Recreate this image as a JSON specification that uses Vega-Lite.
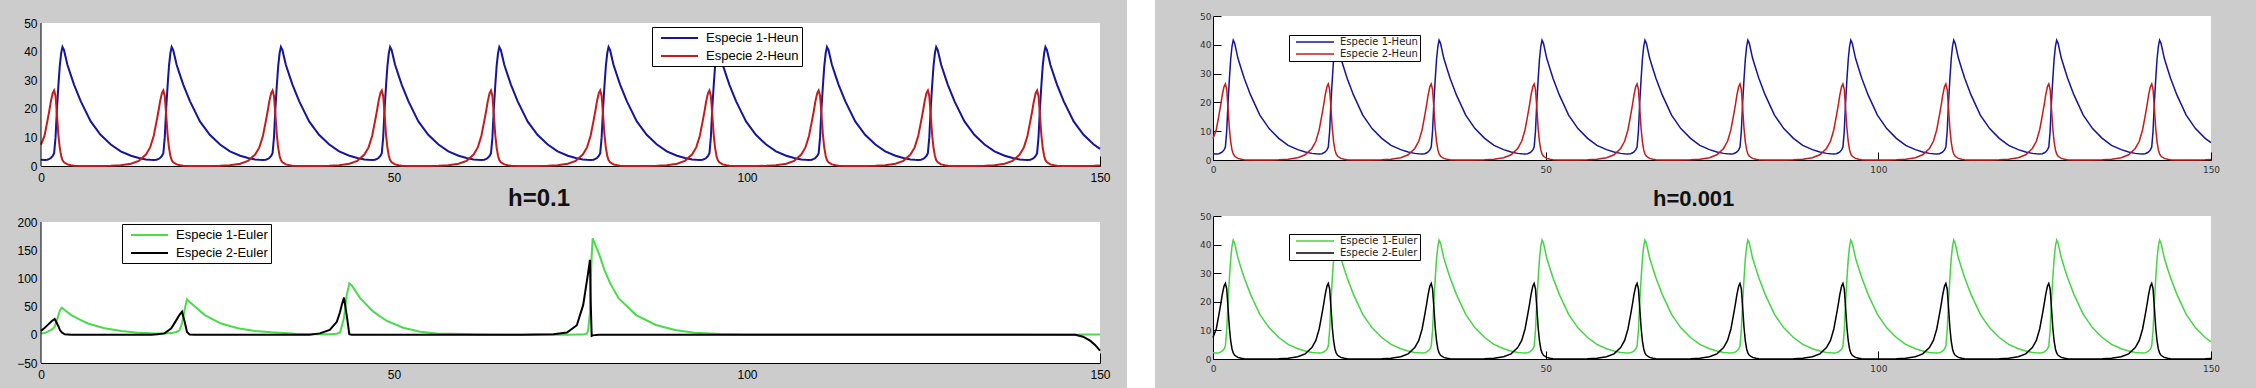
{
"$schema":"https://vega.github.io/schema/vega-lite/v6.json",
"background":"#cccccc",
"padding":0,
"columns":7,
"spacing":0,
"bounds":"flush",
"align":"each",
"config":{"view":{"stroke":null},"axis":{"grid":false,"domainColor":"#000","tickColor":"#000","labelColor":"#000"}},
"resolve":{"scale":{"color":"independent","x":"independent","y":"independent"},"legend":{"color":"independent"}},
"datasets":{
"heun":[
{"t":0,"a":2.2,"b":7.5},{"t":0.49,"a":2.1,"b":10.5},{"t":0.89,"a":2.2,"b":15.5},{"t":1.19,"a":2.5,"b":19.5},{"t":1.39,"a":2.8,"b":22.5},{"t":1.66,"a":3.5,"b":25.5},
{"t":1.86,"a":4.5,"b":26.4},{"t":2.06,"a":10,"b":24.5},{"t":2.26,"a":20,"b":18},{"t":2.46,"a":28,"b":11},{"t":2.66,"a":35,"b":6.3},{"t":2.86,"a":39.5,"b":3.5},{"t":3.04,"a":41.6,"b":2.1},{"t":3.26,"a":40.5,"b":1.3},{"t":3.74,"a":35.4,"b":0.55},{"t":4.26,"a":31.5,"b":0.25},{"t":4.69,"a":28.4,"b":0.12},{"t":5.64,"a":22.6,"b":0.04},{"t":7.04,"a":15.6,"b":0.02},{"t":8.44,"a":10.9,"b":0.02},{"t":9.89,"a":7.5,"b":0.05},{"t":11.29,"a":5.1,"b":0.3},{"t":12.74,"a":3.6,"b":0.8},{"t":13.86,"a":2.8,"b":1.8},{"t":14.86,"a":2.3,"b":4},{"t":15.46,"a":2.15,"b":6.5},{"t":15.96,"a":2.1,"b":10.5},{"t":16.36,"a":2.2,"b":15.5},{"t":16.66,"a":2.5,"b":19.5},{"t":16.86,"a":2.8,"b":22.5},{"t":17.13,"a":3.5,"b":25.5},
{"t":17.33,"a":4.5,"b":26.4},{"t":17.53,"a":10,"b":24.5},{"t":17.73,"a":20,"b":18},{"t":17.93,"a":28,"b":11},{"t":18.13,"a":35,"b":6.3},{"t":18.33,"a":39.5,"b":3.5},{"t":18.51,"a":41.6,"b":2.1},{"t":18.73,"a":40.5,"b":1.3},{"t":19.21,"a":35.4,"b":0.55},{"t":19.73,"a":31.5,"b":0.25},{"t":20.16,"a":28.4,"b":0.12},{"t":21.11,"a":22.6,"b":0.04},{"t":22.51,"a":15.6,"b":0.02},{"t":23.91,"a":10.9,"b":0.02},{"t":25.36,"a":7.5,"b":0.05},{"t":26.76,"a":5.1,"b":0.3},{"t":28.21,"a":3.6,"b":0.8},{"t":29.33,"a":2.8,"b":1.8},{"t":30.33,"a":2.3,"b":4},{"t":30.93,"a":2.15,"b":6.5},{"t":31.43,"a":2.1,"b":10.5},{"t":31.83,"a":2.2,"b":15.5},{"t":32.13,"a":2.5,"b":19.5},{"t":32.33,"a":2.8,"b":22.5},{"t":32.6,"a":3.5,"b":25.5},
{"t":32.8,"a":4.5,"b":26.4},{"t":33.0,"a":10,"b":24.5},{"t":33.2,"a":20,"b":18},{"t":33.4,"a":28,"b":11},{"t":33.6,"a":35,"b":6.3},{"t":33.8,"a":39.5,"b":3.5},{"t":33.98,"a":41.6,"b":2.1},{"t":34.2,"a":40.5,"b":1.3},{"t":34.68,"a":35.4,"b":0.55},{"t":35.2,"a":31.5,"b":0.25},{"t":35.63,"a":28.4,"b":0.12},{"t":36.58,"a":22.6,"b":0.04},{"t":37.98,"a":15.6,"b":0.02},{"t":39.38,"a":10.9,"b":0.02},{"t":40.83,"a":7.5,"b":0.05},{"t":42.23,"a":5.1,"b":0.3},{"t":43.68,"a":3.6,"b":0.8},{"t":44.8,"a":2.8,"b":1.8},{"t":45.8,"a":2.3,"b":4},{"t":46.4,"a":2.15,"b":6.5},{"t":46.9,"a":2.1,"b":10.5},{"t":47.3,"a":2.2,"b":15.5},{"t":47.6,"a":2.5,"b":19.5},{"t":47.8,"a":2.8,"b":22.5},{"t":48.07,"a":3.5,"b":25.5},
{"t":48.27,"a":4.5,"b":26.4},{"t":48.47,"a":10,"b":24.5},{"t":48.67,"a":20,"b":18},{"t":48.87,"a":28,"b":11},{"t":49.07,"a":35,"b":6.3},{"t":49.27,"a":39.5,"b":3.5},{"t":49.45,"a":41.6,"b":2.1},{"t":49.67,"a":40.5,"b":1.3},{"t":50.15,"a":35.4,"b":0.55},{"t":50.67,"a":31.5,"b":0.25},{"t":51.1,"a":28.4,"b":0.12},{"t":52.05,"a":22.6,"b":0.04},{"t":53.45,"a":15.6,"b":0.02},{"t":54.85,"a":10.9,"b":0.02},{"t":56.3,"a":7.5,"b":0.05},{"t":57.7,"a":5.1,"b":0.3},{"t":59.15,"a":3.6,"b":0.8},{"t":60.27,"a":2.8,"b":1.8},{"t":61.27,"a":2.3,"b":4},{"t":61.87,"a":2.15,"b":6.5},{"t":62.37,"a":2.1,"b":10.5},{"t":62.77,"a":2.2,"b":15.5},{"t":63.07,"a":2.5,"b":19.5},{"t":63.27,"a":2.8,"b":22.5},{"t":63.54,"a":3.5,"b":25.5},
{"t":63.74,"a":4.5,"b":26.4},{"t":63.94,"a":10,"b":24.5},{"t":64.14,"a":20,"b":18},{"t":64.34,"a":28,"b":11},{"t":64.54,"a":35,"b":6.3},{"t":64.74,"a":39.5,"b":3.5},{"t":64.92,"a":41.6,"b":2.1},{"t":65.14,"a":40.5,"b":1.3},{"t":65.62,"a":35.4,"b":0.55},{"t":66.14,"a":31.5,"b":0.25},{"t":66.57,"a":28.4,"b":0.12},{"t":67.52,"a":22.6,"b":0.04},{"t":68.92,"a":15.6,"b":0.02},{"t":70.32,"a":10.9,"b":0.02},{"t":71.77,"a":7.5,"b":0.05},{"t":73.17,"a":5.1,"b":0.3},{"t":74.62,"a":3.6,"b":0.8},{"t":75.74,"a":2.8,"b":1.8},{"t":76.74,"a":2.3,"b":4},{"t":77.34,"a":2.15,"b":6.5},{"t":77.84,"a":2.1,"b":10.5},{"t":78.24,"a":2.2,"b":15.5},{"t":78.54,"a":2.5,"b":19.5},{"t":78.74,"a":2.8,"b":22.5},{"t":79.01,"a":3.5,"b":25.5},
{"t":79.21,"a":4.5,"b":26.4},{"t":79.41,"a":10,"b":24.5},{"t":79.61,"a":20,"b":18},{"t":79.81,"a":28,"b":11},{"t":80.01,"a":35,"b":6.3},{"t":80.21,"a":39.5,"b":3.5},{"t":80.39,"a":41.6,"b":2.1},{"t":80.61,"a":40.5,"b":1.3},{"t":81.09,"a":35.4,"b":0.55},{"t":81.61,"a":31.5,"b":0.25},{"t":82.04,"a":28.4,"b":0.12},{"t":82.99,"a":22.6,"b":0.04},{"t":84.39,"a":15.6,"b":0.02},{"t":85.79,"a":10.9,"b":0.02},{"t":87.24,"a":7.5,"b":0.05},{"t":88.64,"a":5.1,"b":0.3},{"t":90.09,"a":3.6,"b":0.8},{"t":91.21,"a":2.8,"b":1.8},{"t":92.21,"a":2.3,"b":4},{"t":92.81,"a":2.15,"b":6.5},{"t":93.31,"a":2.1,"b":10.5},{"t":93.71,"a":2.2,"b":15.5},{"t":94.01,"a":2.5,"b":19.5},{"t":94.21,"a":2.8,"b":22.5},{"t":94.48,"a":3.5,"b":25.5},
{"t":94.68,"a":4.5,"b":26.4},{"t":94.88,"a":10,"b":24.5},{"t":95.08,"a":20,"b":18},{"t":95.28,"a":28,"b":11},{"t":95.48,"a":35,"b":6.3},{"t":95.68,"a":39.5,"b":3.5},{"t":95.86,"a":41.6,"b":2.1},{"t":96.08,"a":40.5,"b":1.3},{"t":96.56,"a":35.4,"b":0.55},{"t":97.08,"a":31.5,"b":0.25},{"t":97.51,"a":28.4,"b":0.12},{"t":98.46,"a":22.6,"b":0.04},{"t":99.86,"a":15.6,"b":0.02},{"t":101.26,"a":10.9,"b":0.02},{"t":102.71,"a":7.5,"b":0.05},{"t":104.11,"a":5.1,"b":0.3},{"t":105.56,"a":3.6,"b":0.8},{"t":106.68,"a":2.8,"b":1.8},{"t":107.68,"a":2.3,"b":4},{"t":108.28,"a":2.15,"b":6.5},{"t":108.78,"a":2.1,"b":10.5},{"t":109.18,"a":2.2,"b":15.5},{"t":109.48,"a":2.5,"b":19.5},{"t":109.68,"a":2.8,"b":22.5},{"t":109.95,"a":3.5,"b":25.5},
{"t":110.15,"a":4.5,"b":26.4},{"t":110.35,"a":10,"b":24.5},{"t":110.55,"a":20,"b":18},{"t":110.75,"a":28,"b":11},{"t":110.95,"a":35,"b":6.3},{"t":111.15,"a":39.5,"b":3.5},{"t":111.33,"a":41.6,"b":2.1},{"t":111.55,"a":40.5,"b":1.3},{"t":112.03,"a":35.4,"b":0.55},{"t":112.55,"a":31.5,"b":0.25},{"t":112.98,"a":28.4,"b":0.12},{"t":113.93,"a":22.6,"b":0.04},{"t":115.33,"a":15.6,"b":0.02},{"t":116.73,"a":10.9,"b":0.02},{"t":118.18,"a":7.5,"b":0.05},{"t":119.58,"a":5.1,"b":0.3},{"t":121.03,"a":3.6,"b":0.8},{"t":122.15,"a":2.8,"b":1.8},{"t":123.15,"a":2.3,"b":4},{"t":123.75,"a":2.15,"b":6.5},{"t":124.25,"a":2.1,"b":10.5},{"t":124.65,"a":2.2,"b":15.5},{"t":124.95,"a":2.5,"b":19.5},{"t":125.15,"a":2.8,"b":22.5},{"t":125.42,"a":3.5,"b":25.5},
{"t":125.62,"a":4.5,"b":26.4},{"t":125.82,"a":10,"b":24.5},{"t":126.02,"a":20,"b":18},{"t":126.22,"a":28,"b":11},{"t":126.42,"a":35,"b":6.3},{"t":126.62,"a":39.5,"b":3.5},{"t":126.8,"a":41.6,"b":2.1},{"t":127.02,"a":40.5,"b":1.3},{"t":127.5,"a":35.4,"b":0.55},{"t":128.02,"a":31.5,"b":0.25},{"t":128.45,"a":28.4,"b":0.12},{"t":129.4,"a":22.6,"b":0.04},{"t":130.8,"a":15.6,"b":0.02},{"t":132.2,"a":10.9,"b":0.02},{"t":133.65,"a":7.5,"b":0.05},{"t":135.05,"a":5.1,"b":0.3},{"t":136.5,"a":3.6,"b":0.8},{"t":137.62,"a":2.8,"b":1.8},{"t":138.62,"a":2.3,"b":4},{"t":139.22,"a":2.15,"b":6.5},{"t":139.72,"a":2.1,"b":10.5},{"t":140.12,"a":2.2,"b":15.5},{"t":140.42,"a":2.5,"b":19.5},{"t":140.62,"a":2.8,"b":22.5},{"t":140.89,"a":3.5,"b":25.5},
{"t":141.09,"a":4.5,"b":26.4},{"t":141.29,"a":10,"b":24.5},{"t":141.49,"a":20,"b":18},{"t":141.69,"a":28,"b":11},{"t":141.89,"a":35,"b":6.3},{"t":142.09,"a":39.5,"b":3.5},{"t":142.27,"a":41.6,"b":2.1},{"t":142.49,"a":40.5,"b":1.3},{"t":142.97,"a":35.4,"b":0.55},{"t":143.49,"a":31.5,"b":0.25},{"t":143.92,"a":28.4,"b":0.12},{"t":144.87,"a":22.6,"b":0.04},{"t":146.27,"a":15.6,"b":0.02},{"t":147.67,"a":10.9,"b":0.02},{"t":149.12,"a":7.5,"b":0.05},{"t":150,"a":6.0,"b":0.2}
],
"euler":[
{"t":0,"a":2.2,"b":7},{"t":0.5,"a":3,"b":12},{"t":1.0,"a":6,"b":18},{"t":1.5,"a":9,"b":24},{"t":1.94,"a":14,"b":28},{"t":2.4,"a":32,"b":17},{"t":2.7,"a":44,"b":8},{"t":2.97,"a":48,"b":4},{"t":3.35,"a":44,"b":0.8},{"t":4.3,"a":35,"b":0.1},{"t":5.5,"a":27,"b":0.02},{"t":6.66,"a":20,"b":0.01},{"t":9.0,"a":11.5,"b":0.01},{"t":11.4,"a":6.7,"b":0.02},{"t":13.7,"a":3.8,"b":0.1},{"t":15.6,"a":2.7,"b":0.3},{"t":16.5,"a":2.5,"b":0.8},{"t":17.5,"a":2.4,"b":2.5},{"t":18.46,"a":3,"b":11.5},{"t":19.17,"a":5,"b":26},{"t":19.6,"a":8,"b":35},{"t":19.97,"a":20,"b":41},{"t":20.35,"a":45,"b":23},{"t":20.68,"a":63,"b":5},{"t":21.05,"a":58,"b":0.5},{"t":21.8,"a":50,"b":0.1},{"t":23.2,"a":35,"b":0.02},{"t":25.5,"a":20,"b":0.01},{"t":27.9,"a":11.5,"b":0.01},{"t":30.3,"a":6.7,"b":0.01},{"t":32.6,"a":4.4,"b":0.01},{"t":35.5,"a":2.5,"b":0.02},{"t":36.5,"a":1.2,"b":0.05},{"t":38.0,"a":0.8,"b":0.3},{"t":39.5,"a":0.9,"b":2.5},{"t":40.9,"a":1.0,"b":8.5},{"t":41.9,"a":2,"b":23},{"t":42.35,"a":4,"b":40},{"t":42.6,"a":15,"b":53},{"t":42.92,"a":30,"b":66},{"t":43.3,"a":70,"b":35},{"t":43.67,"a":91,"b":1},{"t":44.0,"a":88,"b":0.1},{"t":45.2,"a":65,"b":0.01},{"t":47.07,"a":41,"b":0},{"t":49.0,"a":24.5,"b":0},{"t":51.3,"a":12.6,"b":0},{"t":53.7,"a":5.5,"b":0},{"t":56.0,"a":2.5,"b":0},{"t":59.8,"a":1.2,"b":0.01},{"t":62,"a":0.5,"b":0.02},{"t":68,"a":0.2,"b":0.1},{"t":72.6,"a":0.2,"b":1},{"t":74.5,"a":0.3,"b":4},{"t":75.9,"a":0.4,"b":17},{"t":76.8,"a":0.5,"b":53},{"t":77.3,"a":2,"b":94},{"t":77.5,"a":8,"b":110},{"t":77.76,"a":40,"b":133},{"t":77.86,"a":94,"b":60},{"t":78.0,"a":140,"b":-2},{"t":78.14,"a":171,"b":-1},{"t":79.0,"a":145,"b":0},{"t":79.8,"a":115,"b":0},{"t":80.6,"a":92,"b":0},{"t":81.8,"a":65,"b":0},{"t":84.3,"a":35,"b":0},{"t":87.1,"a":17.4,"b":0},{"t":89.8,"a":8.5,"b":0},{"t":92.5,"a":3.8,"b":0},{"t":96.2,"a":1.4,"b":0},{"t":100,"a":0.5,"b":0},{"t":146.5,"a":0.3,"b":0},{"t":147.6,"a":0.35,"b":-3.3},{"t":148.6,"a":0.4,"b":-10.4},{"t":149.3,"a":0.4,"b":-18},{"t":150,"a":0.4,"b":-28}
]
},
"concat":[
{"width":41,"height":1,"data":{"values":[]},"mark":"point"},
{"width":1,"height":1,"data":{"values":[]},"mark":"point"},
{"width":27,"height":1,"data":{"values":[]},"mark":"point"},
{"width":28,"height":16,"view":{"fill":"white","stroke":null},"data":{"values":[]},"mark":"point"},
{"width":58,"height":1,"data":{"values":[]},"mark":"point"},
{"width":1,"height":1,"data":{"values":[]},"mark":"point"},
{"width":45,"height":1,"data":{"values":[]},"mark":"point"},

{"width":1,"height":1,"data":{"values":[]},"mark":"point"},
{"width":1059,"height":150,
 "layer":[
  {"data":{"values":[{"k":"frame"}]},"mark":{"type":"rect","fill":"#ffffff","stroke":null},
   "encoding":{"x":{"datum":0,"type":"quantitative","scale":{"domain":[0,150],"nice":false},"axis":{"values":[0,50,100,150],"tickSize":-10,"labelPadding":16,"labelFont":"Liberation Sans","labelFontSize":12,"labelFlush":false,"labelOverlap":false,"title":null}},"x2":{"datum":150},
    "y":{"datum":0,"type":"quantitative","scale":{"domain":[0,52.448],"nice":false},"axis":{"values":[0,10,20,30,40,50],"domain":false,"tickSize":-10,"labelPadding":14,"labelFont":"Liberation Sans","labelFontSize":12,"labelFlush":false,"labelOverlap":false,"title":null}},"y2":{"datum":50}}},
  {"data":{"name":"heun"},"transform":[{"fold":["a","b"],"as":["k","v"]}],"mark":{"type":"line","strokeWidth":2},
   "encoding":{"x":{"field":"t","type":"quantitative","scale":{"domain":[0,150],"nice":false},"axis":{"values":[0,50,100,150],"tickSize":-10,"labelPadding":16,"labelFont":"Liberation Sans","labelFontSize":12,"labelFlush":false,"labelOverlap":false,"title":null}},
    "y":{"field":"v","type":"quantitative","scale":{"domain":[0,52.448],"nice":false},"axis":{"values":[0,10,20,30,40,50],"domain":false,"tickSize":-10,"labelPadding":14,"labelFont":"Liberation Sans","labelFontSize":12,"labelFlush":false,"labelOverlap":false,"title":null}},
    "color":{"field":"k","type":"nominal","scale":{"domain":["a","b"],"range":["#14149c","#c41c1c"]},
     "legend":{"orient":"none","legendX":611,"legendY":11,"title":null,"labelExpr":"datum.label == 'a' ? 'Especie 1-Heun' : 'Especie 2-Heun'","fillColor":"white","strokeColor":"black","padding":3,"rowPadding":3,"symbolType":"M-0.286,0H5","symbolSize":196,"symbolStrokeWidth":2,"labelOffset":35,"labelFont":"Liberation Sans","labelFontSize":13,"labelColor":"#000","labelLimit":0}}}},
  {"data":{"values":[{"k":"frame"}]},"mark":{"type":"rule","color":"#000","strokeWidth":1},
   "encoding":{"x":{"datum":0,"type":"quantitative","scale":{"domain":[0,150],"nice":false},"axis":{"values":[0,50,100,150],"tickSize":-10,"labelPadding":16,"labelFont":"Liberation Sans","labelFontSize":12,"labelFlush":false,"labelOverlap":false,"title":null}},
    "y":{"datum":0,"type":"quantitative","scale":{"domain":[0,52.448],"nice":false},"axis":{"values":[0,10,20,30,40,50],"domain":false,"tickSize":-10,"labelPadding":14,"labelFont":"Liberation Sans","labelFontSize":12,"labelFlush":false,"labelOverlap":false,"title":null}},"y2":{"datum":50}}}
 ]},
{"width":1,"height":1,"data":{"values":[]},"mark":"point"},
{"width":28,"height":150,"view":{"fill":"white","stroke":null},"data":{"values":[]},"mark":"point"},
{"width":1,"height":1,"data":{"values":[]},"mark":"point"},
{"width":998,"height":144,"view":{"fill":"white","stroke":null},"data":{"name":"heun"},"transform":[{"fold":["a","b"],"as":["k","v"]}],
 "mark":{"type":"line","strokeWidth":1.5},
 "encoding":{"x":{"field":"t","type":"quantitative","scale":{"domain":[0,150],"nice":false},"axis":{"values":[0,50,100,150],"tickSize":-8,"labelPadding":13,"labelFont":"DejaVu Sans","labelFontSize":9,"labelColor":"#333","labelFlush":false,"labelOverlap":false,"title":null}},
  "y":{"field":"v","type":"quantitative","scale":{"domain":[0,50],"nice":false},"axis":{"values":[0,10,20,30,40,50],"tickSize":-8,"labelPadding":10,"labelFont":"DejaVu Sans","labelFontSize":9,"labelColor":"#333","labelFlush":false,"labelOverlap":false,"title":null}},
  "color":{"field":"k","type":"nominal","scale":{"domain":["a","b"],"range":["#14149c","#c41c1c"]},
   "legend":{"orient":"none","legendX":76,"legendY":19,"title":null,"labelExpr":"datum.label == 'a' ? 'Especie 1-Heun' : 'Especie 2-Heun'","fillColor":"white","strokeColor":"black","padding":2,"rowPadding":2,"symbolType":"M0,0H9.5","symbolSize":64,"symbolStrokeWidth":1.5,"labelOffset":39,"labelFont":"DejaVu Sans","labelFontSize":10,"labelColor":"#222","labelLimit":0}}}},
{"width":1,"height":1,"data":{"values":[]},"mark":"point"},

{"width":1,"height":1,"data":{"values":[]},"mark":"point"},
{"width":1,"height":1,"data":{"values":[]},"mark":"point"},
{"width":1,"height":1,"data":{"values":[]},"mark":"point"},
{"width":28,"height":50,"view":{"fill":"white","stroke":null},"data":{"values":[]},"mark":"point"},
{"width":1,"height":1,"data":{"values":[]},"mark":"point"},
{"width":1,"height":1,"data":{"values":[]},"mark":"point"},
{"width":1,"height":1,"data":{"values":[]},"mark":"point"},

{"width":1,"height":1,"data":{"values":[]},"mark":"point"},
{"width":1059,"height":147,
 "title":{"text":"h=0.1","frame":"group","anchor":"start","dx":467,"offset":-14,"baseline":"alphabetic","font":"Liberation Sans","fontSize":24,"fontWeight":"bold","color":"#111"},
 "layer":[
  {"data":{"values":[{"k":"frame"}]},"mark":{"type":"rect","fill":"#ffffff","stroke":null},
   "encoding":{"x":{"datum":0,"type":"quantitative","scale":{"domain":[0,150],"nice":false},"axis":{"values":[0,50,100,150],"tickSize":-10,"labelPadding":16,"labelFont":"Liberation Sans","labelFontSize":12,"labelFlush":false,"labelOverlap":false,"title":null}},"x2":{"datum":150},
    "y":{"datum":-50,"type":"quantitative","scale":{"domain":[-50,210.64],"nice":false},"axis":{"values":[-50,0,50,100,150,200],"domain":false,"tickSize":-10,"labelPadding":14,"labelFont":"Liberation Sans","labelFontSize":12,"labelFlush":false,"labelOverlap":false,"title":null}},"y2":{"datum":200}}},
  {"data":{"name":"euler"},"transform":[{"fold":["a","b"],"as":["k","v"]}],"mark":{"type":"line","strokeWidth":2},
   "encoding":{"x":{"field":"t","type":"quantitative","scale":{"domain":[0,150],"nice":false},"axis":{"values":[0,50,100,150],"tickSize":-10,"labelPadding":16,"labelFont":"Liberation Sans","labelFontSize":12,"labelFlush":false,"labelOverlap":false,"title":null}},
    "y":{"field":"v","type":"quantitative","scale":{"domain":[-50,210.64],"nice":false},"axis":{"values":[-50,0,50,100,150,200],"domain":false,"tickSize":-10,"labelPadding":14,"labelFont":"Liberation Sans","labelFontSize":12,"labelFlush":false,"labelOverlap":false,"title":null}},
    "color":{"field":"k","type":"nominal","scale":{"domain":["a","b"],"range":["#48dc48","#000000"]},
     "legend":{"orient":"none","legendX":81,"legendY":8,"title":null,"labelExpr":"datum.label == 'a' ? 'Especie 1-Euler' : 'Especie 2-Euler'","fillColor":"white","strokeColor":"black","padding":3,"rowPadding":3,"symbolType":"M-0.286,0H5","symbolSize":196,"symbolStrokeWidth":2,"labelOffset":35,"labelFont":"Liberation Sans","labelFontSize":13,"labelColor":"#000","labelLimit":0}}}},
  {"data":{"values":[{"k":"frame"}]},"mark":{"type":"rule","color":"#000","strokeWidth":1},
   "encoding":{"x":{"datum":0,"type":"quantitative","scale":{"domain":[0,150],"nice":false},"axis":{"values":[0,50,100,150],"tickSize":-10,"labelPadding":16,"labelFont":"Liberation Sans","labelFontSize":12,"labelFlush":false,"labelOverlap":false,"title":null}},
    "y":{"datum":-50,"type":"quantitative","scale":{"domain":[-50,210.64],"nice":false},"axis":{"values":[-50,0,50,100,150,200],"domain":false,"tickSize":-10,"labelPadding":14,"labelFont":"Liberation Sans","labelFontSize":12,"labelFlush":false,"labelOverlap":false,"title":null}},"y2":{"datum":200}}}
 ]},
{"width":1,"height":1,"data":{"values":[]},"mark":"point"},
{"width":28,"height":147,"view":{"fill":"white","stroke":null},"data":{"values":[]},"mark":"point"},
{"width":1,"height":1,"data":{"values":[]},"mark":"point"},
{"width":998,"height":143,"view":{"fill":"white","stroke":null},"data":{"name":"heun"},"transform":[{"fold":["a","b"],"as":["k","v"]}],
 "title":{"text":"h=0.001","frame":"group","anchor":"start","dx":440,"offset":-16,"baseline":"alphabetic","font":"Liberation Sans","fontSize":22,"fontWeight":"bold","color":"#111"},
 "mark":{"type":"line","strokeWidth":1.5},
 "encoding":{"x":{"field":"t","type":"quantitative","scale":{"domain":[0,150],"nice":false},"axis":{"values":[0,50,100,150],"tickSize":-8,"labelPadding":13,"labelFont":"DejaVu Sans","labelFontSize":9,"labelColor":"#333","labelFlush":false,"labelOverlap":false,"title":null}},
  "y":{"field":"v","type":"quantitative","scale":{"domain":[0,50],"nice":false},"axis":{"values":[0,10,20,30,40,50],"tickSize":-8,"labelPadding":10,"labelFont":"DejaVu Sans","labelFontSize":9,"labelColor":"#333","labelFlush":false,"labelOverlap":false,"title":null}},
  "color":{"field":"k","type":"nominal","scale":{"domain":["a","b"],"range":["#44d444","#000000"]},
   "legend":{"orient":"none","legendX":76,"legendY":18,"title":null,"labelExpr":"datum.label == 'a' ? 'Especie 1-Euler' : 'Especie 2-Euler'","fillColor":"white","strokeColor":"black","padding":2,"rowPadding":2,"symbolType":"M0,0H9.5","symbolSize":64,"symbolStrokeWidth":1.5,"labelOffset":39,"labelFont":"DejaVu Sans","labelFontSize":10,"labelColor":"#222","labelLimit":0}}}},
{"width":1,"height":1,"data":{"values":[]},"mark":"point"},

{"width":1,"height":1,"data":{"values":[]},"mark":"point"},
{"width":1,"height":1,"data":{"values":[]},"mark":"point"},
{"width":1,"height":1,"data":{"values":[]},"mark":"point"},
{"width":28,"height":25,"view":{"fill":"white","stroke":null},"data":{"values":[]},"mark":"point"},
{"width":1,"height":1,"data":{"values":[]},"mark":"point"},
{"width":1,"height":1,"data":{"values":[]},"mark":"point"},
{"width":1,"height":1,"data":{"values":[]},"mark":"point"}
]
}
